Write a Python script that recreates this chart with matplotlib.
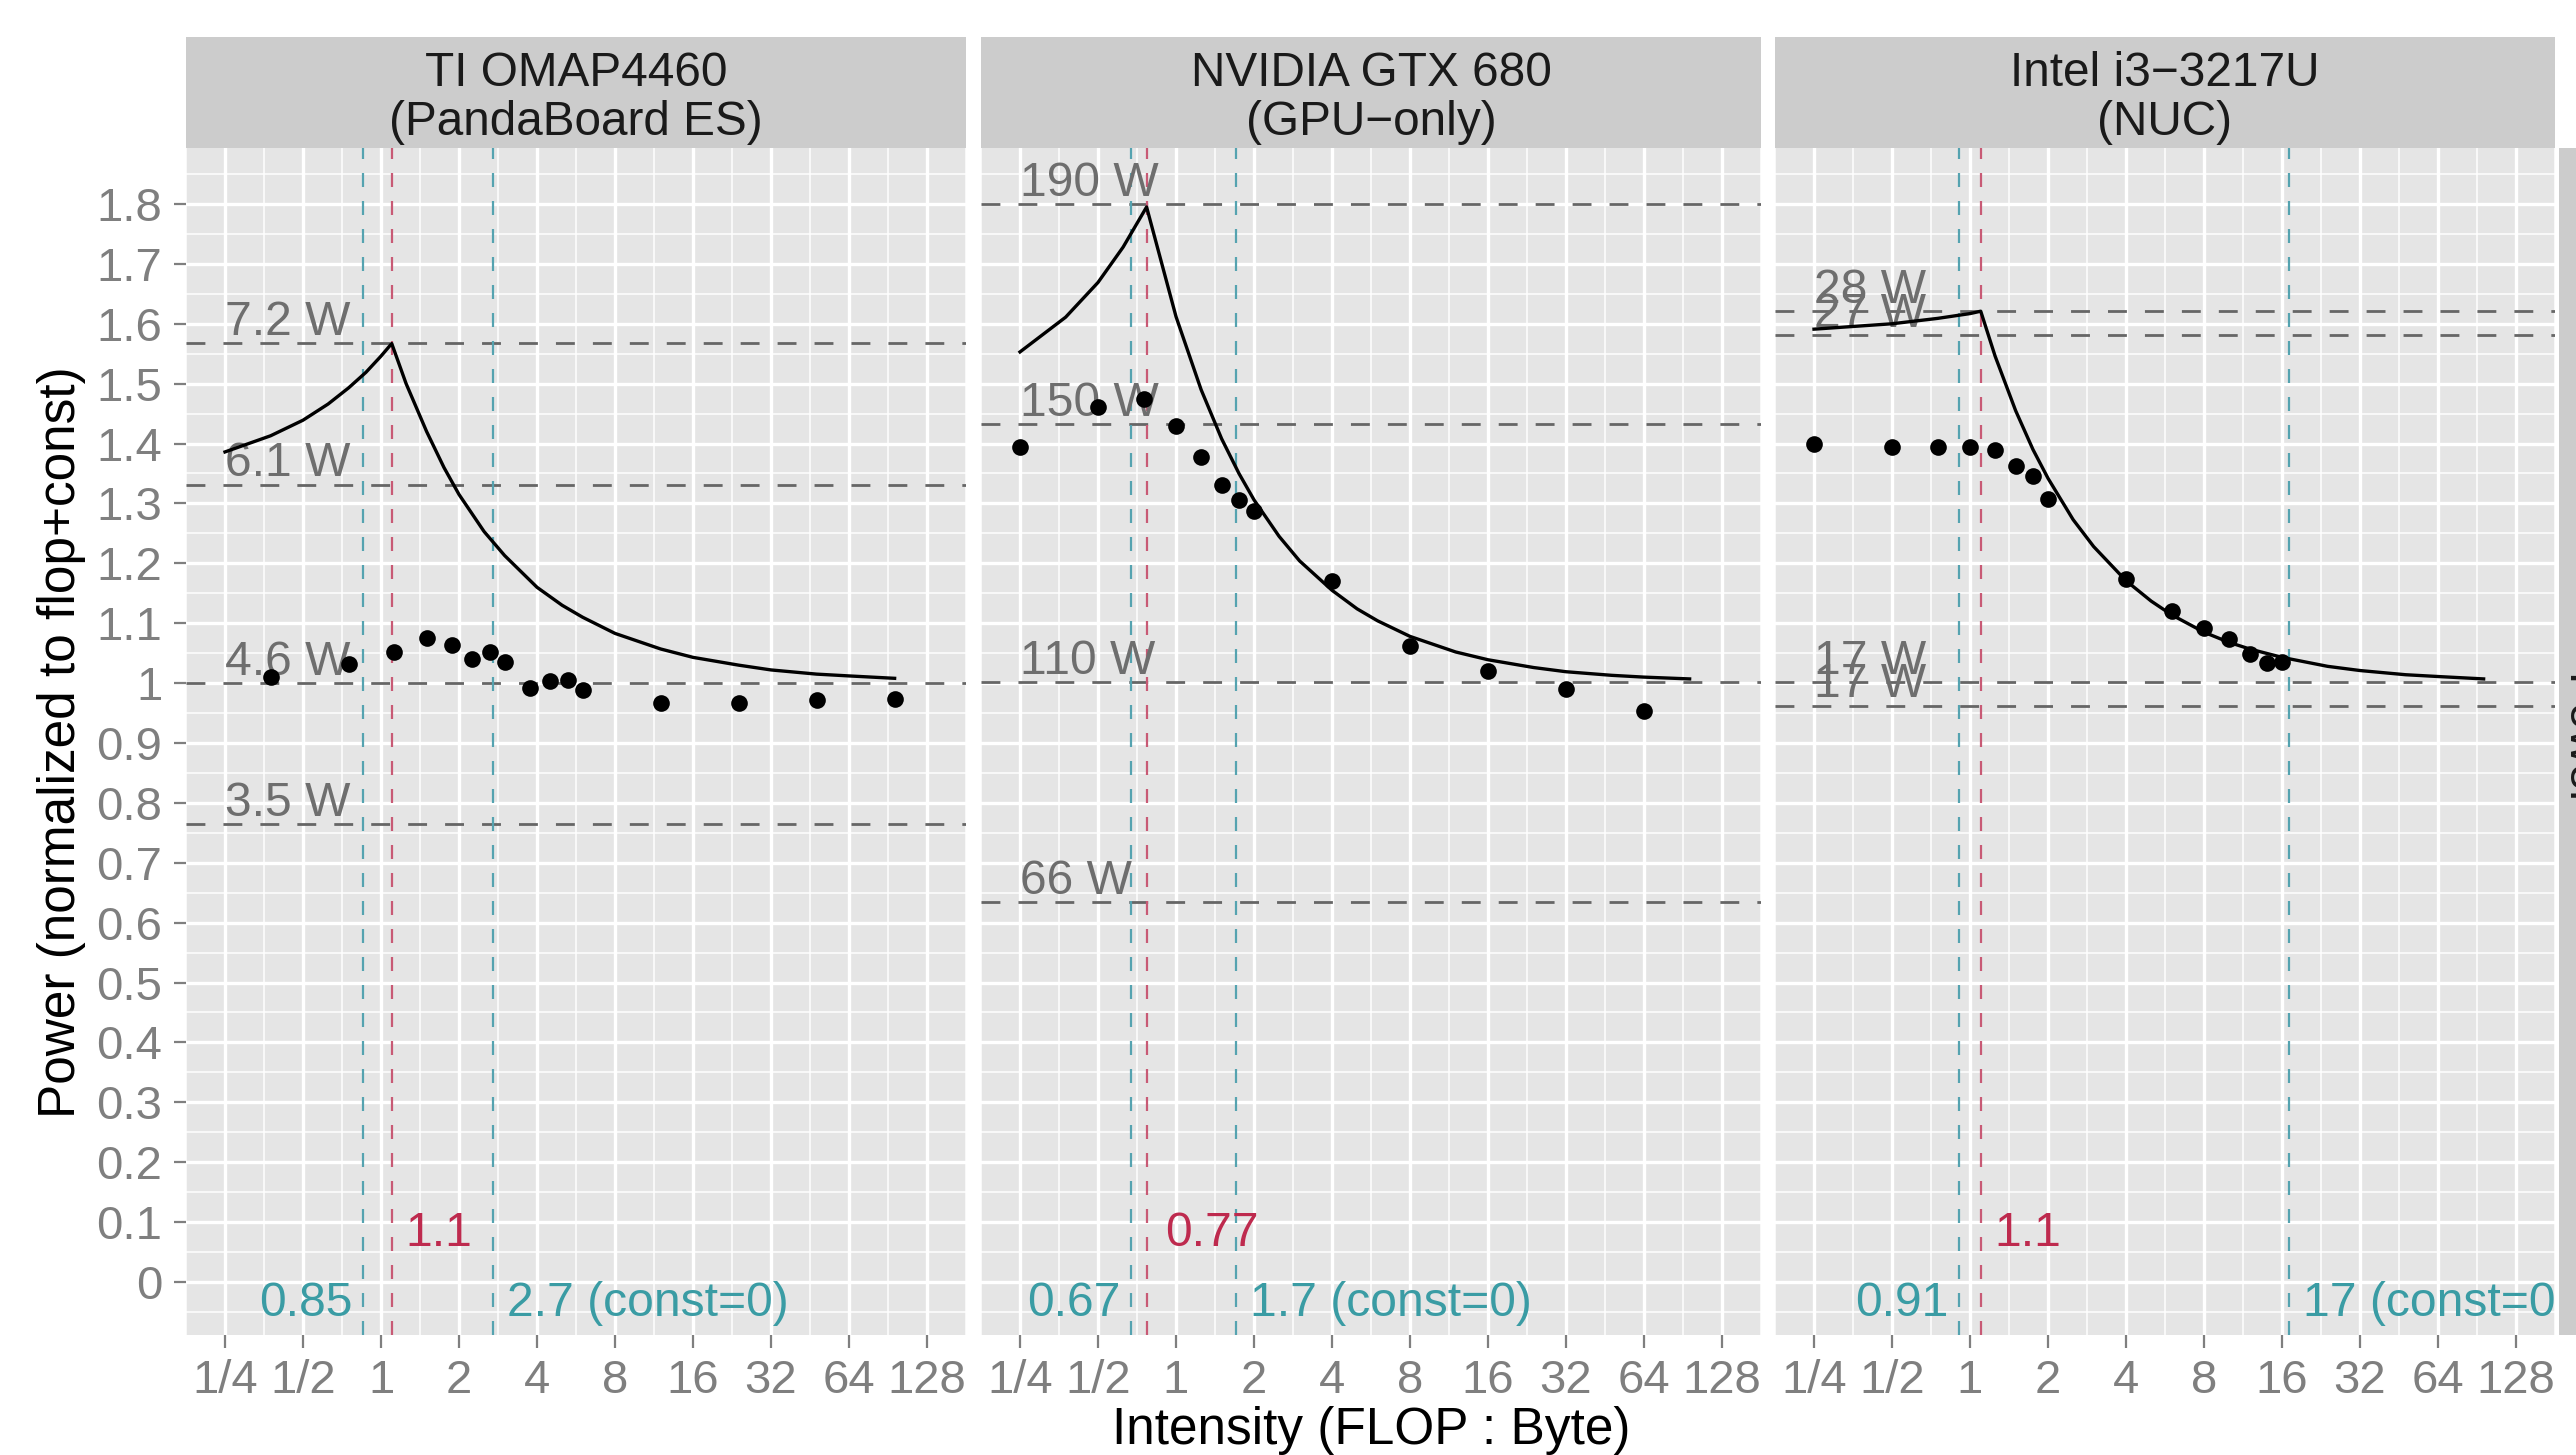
import matplotlib
matplotlib.use('Agg')
import matplotlib.pyplot as plt
import matplotlib.transforms as mtransforms
from matplotlib.ticker import NullFormatter
import numpy as np

plt.rcParams['font.family'] = ['Liberation Sans', 'DejaVu Sans']

# パネルのタイトル
titles = ['TI OMAP4460\n(PandaBoard ES)',
          'NVIDIA GTX 680\n(GPU\u2212only)',
          'Intel i3\u22123217U\n(NUC)']

# 測定点 (intensity, normalized power)
omap_pts_x = [0.375, 0.75, 1.125, 1.5, 1.875, 2.25, 2.625, 3, 3.75, 4.5, 5.25, 6, 12, 24, 48, 96]
omap_pts_y = [1.010, 1.032, 1.052, 1.075, 1.063, 1.040, 1.052, 1.036, 0.992, 1.004, 1.006, 0.988,
              0.966, 0.966, 0.972, 0.974]
gtx_pts_x = [0.25, 0.5, 0.75, 1, 1.25, 1.5, 1.75, 2, 4, 8, 16, 32, 64]
gtx_pts_y = [1.394, 1.461, 1.475, 1.430, 1.378, 1.330, 1.306, 1.288, 1.170, 1.062, 1.021, 0.990, 0.954]
nuc_pts_x = [0.25, 0.5, 0.75, 1, 1.25, 1.5, 1.75, 2, 4, 6, 8, 10, 12, 14, 16]
nuc_pts_y = [1.399, 1.394, 1.394, 1.395, 1.390, 1.363, 1.346, 1.308, 1.174, 1.120, 1.092, 1.073,
             1.048, 1.034, 1.036]

# モデル曲線
omap_curve_x = [0.25, 0.375, 0.5, 0.625, 0.75, 0.875, 1.0, 1.1, 1.25, 1.5, 1.75, 2, 2.5, 3, 4, 5, 6,
                8, 12, 16, 24, 32, 48, 64, 96]
omap_curve_y = [1.386, 1.413, 1.439, 1.466, 1.493, 1.519, 1.546, 1.567, 1.500, 1.420, 1.360, 1.315,
                1.253, 1.213, 1.160, 1.130, 1.110, 1.083, 1.057, 1.043, 1.030, 1.022, 1.015, 1.012, 1.008]
gtx_curve_x = [0.25, 0.375, 0.5, 0.625, 0.77, 1.0, 1.25, 1.5, 1.75, 2, 2.5, 3, 4, 5, 6, 8, 12, 16,
               24, 32, 48, 64, 96]
gtx_curve_y = [1.553, 1.611, 1.669, 1.728, 1.795, 1.612, 1.490, 1.408, 1.350, 1.306, 1.245, 1.204,
               1.155, 1.124, 1.104, 1.078, 1.052, 1.039, 1.026, 1.019, 1.013, 1.010, 1.007]
nuc_curve_x = [0.25, 0.5, 0.75, 1.0, 1.1, 1.25, 1.5, 1.75, 2, 2.5, 3, 4, 5, 6, 8, 10, 12, 16, 24,
               32, 48, 64, 96]
nuc_curve_y = [1.591, 1.600, 1.609, 1.617, 1.621, 1.546, 1.455, 1.390, 1.342, 1.273, 1.228, 1.171,
               1.137, 1.114, 1.085, 1.068, 1.057, 1.043, 1.028, 1.021, 1.014, 1.011, 1.007]

# 水平線 (電力レベル)
omap_hlines = [1.568, 1.331, 1.0, 0.764]
omap_hlabels = ['7.2 W', '6.1 W', '4.6 W', '3.5 W']
gtx_hlines = [1.8, 1.432, 1.002, 0.634]
gtx_hlabels = ['190 W', '150 W', '110 W', '66 W']
nuc_hlines = [1.621, 1.581, 1.002, 0.962]
nuc_hlabels = ['28 W', '27 W', '17 W', '17 W']

# 垂直線 (バランス点)
omap_vlines = [0.85, 1.1, 2.7]
gtx_vlines = [0.67, 0.77, 1.7]
nuc_vlines = [0.91, 1.1, 17]
omap_vlabels = ['0.85', '1.1', '2.7 (const=0)']
gtx_vlabels = ['0.67', '0.77', '1.7 (const=0)']
nuc_vlabels = ['0.91', '1.1', '17 (const=0)']

# 軸目盛
x_ticks = [0.25, 0.5, 1, 2, 4, 8, 16, 32, 64, 128]
x_ticklabels = ['1/4', '1/2', '1', '2', '4', '8', '16', '32', '64', '128']
y_ticks = [round(0.1 * i, 1) for i in range(19)]

panels = [
    (omap_pts_x, omap_pts_y, omap_curve_x, omap_curve_y, omap_hlines, omap_hlabels, omap_vlines, omap_vlabels),
    (gtx_pts_x, gtx_pts_y, gtx_curve_x, gtx_curve_y, gtx_hlines, gtx_hlabels, gtx_vlines, gtx_vlabels),
    (nuc_pts_x, nuc_pts_y, nuc_curve_x, nuc_curve_y, nuc_hlines, nuc_hlabels, nuc_vlines, nuc_vlabels),
]

W, H = 2576, 1455
fig = plt.figure(figsize=(W / 200, H / 200), dpi=200)
renderer = fig.canvas.get_renderer()


def px_box(x0, y0, x1, y1):
    return [x0 / W, 1 - y1 / H, (x1 - x0) / W, (y1 - y0) / H]


def shifted(ax, dx_pt):
    return ax.transData + mtransforms.ScaledTranslation(dx_pt / 72, 0, fig.dpi_scale_trans)


panel_left = [186, 981, 1775]
panel_w = 780
top, bottom, strip_top = 148, 1335, 37

teal_line, red_line = '#55A3B0', '#C85A75'
teal_text, red_text = '#3A9CA4', '#BE2A4E'
tick_gray = '#7F7F7F'
ann_size = 17.3

for i, (px, py, cx, cy, hl, hlab, vl, vlab) in enumerate(panels):
    l = panel_left[i]
    ax = fig.add_axes(px_box(l, top, l + panel_w, bottom))
    ax.set_facecolor('#E5E5E5')
    ax.set_xscale('log', base=2)
    ax.set_xlim(2 ** -2.429, 2 ** 7.419)
    ax.set_ylim(-0.0885, 1.8935)
    for s in ax.spines.values():
        s.set_visible(False)

    ax.set_xticks(x_ticks)
    ax.set_xticklabels(x_ticklabels)
    ax.set_xticks([2 ** (k + 0.5) for k in range(-3, 8)], minor=True)
    ax.xaxis.set_minor_formatter(NullFormatter())
    ax.set_yticks(y_ticks)
    ax.set_yticklabels([f'{v:g}' for v in y_ticks])
    ax.set_yticks([0.05 + 0.1 * k for k in range(-1, 19)], minor=True)

    ax.set_axisbelow(True)
    ax.grid(which='major', color='white', lw=1.2)
    ax.grid(which='minor', color='white', lw=0.55)
    ax.tick_params(which='minor', length=0)
    ax.tick_params(which='major', length=4.5, width=0.8, color=tick_gray,
                   labelcolor=tick_gray, labelsize=17, pad=4)
    if i > 0:
        ax.tick_params(axis='y', length=0, labelleft=False)

    # 水平の破線とラベル
    for yv, lab in zip(hl, hlab):
        ax.axhline(yv, color='#666666', lw=1.0, dashes=(6.8, 6.5), zorder=2)
        ax.text(0.25, yv + 0.014, lab, color='#6E6E6E', fontsize=ann_size,
                ha='left', va='baseline', clip_on=True, zorder=3)

    # 垂直の破線
    lo, mid, hi = vl
    ax.axvline(lo, color=teal_line, lw=0.8, dashes=(6.3, 6.3), zorder=2)
    ax.axvline(hi, color=teal_line, lw=0.8, dashes=(6.3, 6.3), zorder=2)
    ax.axvline(mid, color=red_line, lw=0.8, dashes=(6.3, 6.3), zorder=2)

    ax.text(lo, -0.057, vlab[0], color=teal_text, fontsize=ann_size, ha='right', va='baseline',
            transform=shifted(ax, -3.8), clip_on=True, zorder=3)
    ax.text(hi, -0.057, vlab[2], color=teal_text, fontsize=ann_size, ha='left', va='baseline',
            transform=shifted(ax, 5.0), clip_on=True, zorder=3)
    t = ax.text(mid, 0.06, vlab[1], color=red_text, fontsize=ann_size, ha='left', va='baseline',
                clip_on=True, zorder=3)
    w = t.get_window_extent(renderer).width
    t.set_transform(shifted(ax, 0.2 * w / fig.dpi * 72))

    # モデル曲線と測定点
    ax.plot(cx, cy, color='black', lw=1.2, zorder=4)
    ax.scatter(px, py, s=36, color='black', linewidths=0, zorder=5)

    # ストリップ
    sax = fig.add_axes(px_box(l, strip_top, l + panel_w, top))
    sax.set_facecolor('#CCCCCC')
    sax.set_xticks([])
    sax.set_yticks([])
    for s in sax.spines.values():
        s.set_visible(False)
    sax.text(0.5, 0.45, titles[i], ha='center', va='center', fontsize=17.2,
             linespacing=1.12, color='#1A1A1A', transform=sax.transAxes)

# 右端のストリップ (一部のみ見える)
rax = fig.add_axes(px_box(2559, top, 2620, bottom))
rax.set_facecolor('#CCCCCC')
rax.set_xticks([])
rax.set_yticks([])
for s in rax.spines.values():
    s.set_visible(False)
rax.text(2579 / W, 1 - 742 / H, 'Power', rotation=-90, ha='center', va='center',
         fontsize=17.2, color='#1A1A1A', transform=fig.transFigure)

fig.text(62 / W, 1 - 742 / H, 'Power (normalized to flop+const)', rotation=90,
         ha='center', va='center', fontsize=18.5, color='black')
fig.text(1371 / W, 1 - 1444 / H, 'Intensity (FLOP : Byte)', ha='center', va='baseline',
         fontsize=18.5, color='black')

fig.savefig('out.png', dpi=200, facecolor='white')
